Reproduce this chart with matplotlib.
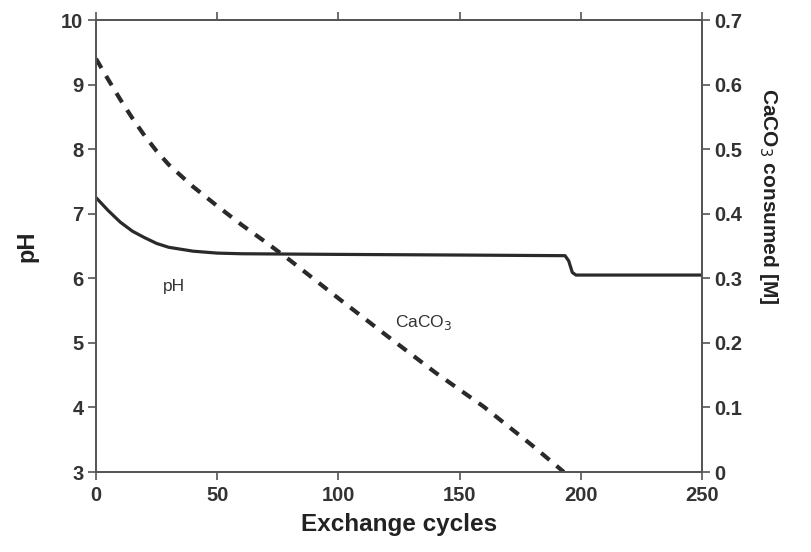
import matplotlib
matplotlib.use("Agg")
import matplotlib.pyplot as plt
from matplotlib.ticker import FixedLocator, FuncFormatter

plt.rcParams['font.family'] = ['Liberation Sans', 'DejaVu Sans']

# pH of the effluent over exchange cycles
cycles_ph = [0, 2, 5, 10, 15, 20, 25, 30, 40, 50, 60, 100, 150, 193.5, 195, 196.5, 198, 250]
ph = [7.25, 7.17, 7.05, 6.87, 6.73, 6.63, 6.54, 6.48, 6.42, 6.39, 6.38, 6.37, 6.36, 6.35, 6.27, 6.09, 6.05, 6.05]

# cumulative CaCO3 consumed [M]
cycles_caco3 = [0, 5, 10, 15, 20, 25, 30, 40, 50, 60, 70, 80, 100, 120, 140, 160, 180, 193]
caco3 = [0.64, 0.608, 0.577, 0.548, 0.521, 0.497, 0.476, 0.442, 0.412, 0.383, 0.356, 0.328,
         0.269, 0.211, 0.154, 0.101, 0.041, 0.0]

x_ticks = [0, 50, 100, 150, 200, 250]
ph_ticks = [3, 4, 5, 6, 7, 8, 9, 10]
caco3_ticks = [0, 0.1, 0.2, 0.3, 0.4, 0.5, 0.6, 0.7]

fig = plt.figure(figsize=(8.12, 5.52), dpi=100)
ax = fig.add_axes([96 / 812, 1 - 472 / 552, (702 - 96) / 812, (472 - 20) / 552])
ax2 = ax.twinx()

ink = '#2a2a2a'
ax.plot(cycles_ph, ph, color=ink, lw=2.3, solid_capstyle='round')
ax2.plot(cycles_caco3, caco3, color=ink, lw=3.0, linestyle=(0, (2.6, 2.2)))

ax.set_xlim(0, 250)
ax.set_ylim(3, 10)
ax2.set_ylim(0, 0.7)

ax.xaxis.set_major_locator(FixedLocator(x_ticks))
ax.yaxis.set_major_locator(FixedLocator(ph_ticks))
ax2.yaxis.set_major_locator(FixedLocator(caco3_ticks))
ax2.yaxis.set_major_formatter(FuncFormatter(lambda v, p: '0' if v == 0 else f'{v:.1f}'))

for a in (ax, ax2):
    for s in a.spines.values():
        s.set_linewidth(1.3)
        s.set_color('#555555')

ax.tick_params(axis='x', which='major', direction='out', length=6, width=1.2,
               top=True, color='#555555', labelsize=14.5, pad=4)
ax.tick_params(axis='y', which='major', direction='out', length=6, width=1.2,
               color='#555555', labelsize=14.5, pad=3)
ax2.tick_params(axis='y', which='major', direction='out', length=6, width=1.2,
                color='#555555', labelsize=14.5, pad=3)
for lbl in ax.get_xticklabels() + ax.get_yticklabels() + ax2.get_yticklabels():
    lbl.set_fontweight('bold')
    lbl.set_color('#333333')

ax.set_xlabel('Exchange cycles', fontsize=17.5, fontweight='bold', color='#222222', labelpad=6)
ax.set_ylabel('pH', fontsize=17, fontweight='bold', color='#222222')
ax.yaxis.set_label_coords(-0.095, 0.5)
ax2.set_ylabel('CaCO$_3$ consumed [M]', fontsize=15, fontweight='bold', color='#222222',
               rotation=270)
ax2.yaxis.set_label_coords(1.128, 0.61)

ax.text(32, 5.88, 'pH', fontsize=12.5, color='#333333', ha='center', va='center')
ax2.text(135, 0.232, 'CaCO$_3$', fontsize=12.5, color='#333333', ha='center', va='center')

fig.savefig('out.png', dpi=100)
